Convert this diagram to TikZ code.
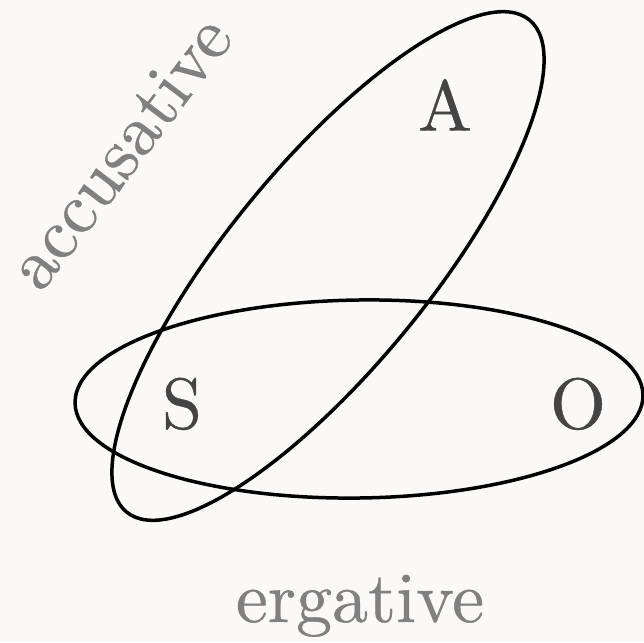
\documentclass[tikz,border=0pt]{standalone}
\usepackage{fontspec}
\newfontfamily\setfont{lmroman10-regular}[Extension=.otf, FakeBold=0.5]
\definecolor{bgc}{RGB}{250,249,247}
\definecolor{letterc}{RGB}{68,68,68}
\definecolor{labelc}{RGB}{128,128,128}
\tikzset{
  setline/.style={draw=black, line width=3.5pt},
  role/.style={text=letterc, font=\setfont\fontsize{72}{80}\selectfont, inner sep=0pt, anchor=base},
  alignlabel/.style={text=labelc, font=\setfont\fontsize{72}{80}\selectfont, inner sep=0pt, anchor=base}
}
\begin{document}
\begin{tikzpicture}[x=1pt,y=-1pt]
\fill[bgc] (0,0) rectangle (644,642);
\useasboundingbox (0,0) rectangle (644,642);
% ergative set (S, O)
\draw[setline, shift={(359,399)}, rotate=0.8] (0,0) ellipse [x radius=284pt, y radius=99pt];
% accusative set (S, A)
\draw[setline, shift={(328,266)}, rotate=50.7] (0,0) ellipse [x radius=318pt, y radius=101pt];
\node[role] (A) at (445,130.5) {A};
\node[role] (S) at (182,428.5) {S};
\node[role] (O) at (578,428.5) {O};
\node[alignlabel] (erg) at (360,622) {ergative};
\node[alignlabel, rotate=52.7] (acc) at (138,166) {accusative};
\end{tikzpicture}
\end{document}
